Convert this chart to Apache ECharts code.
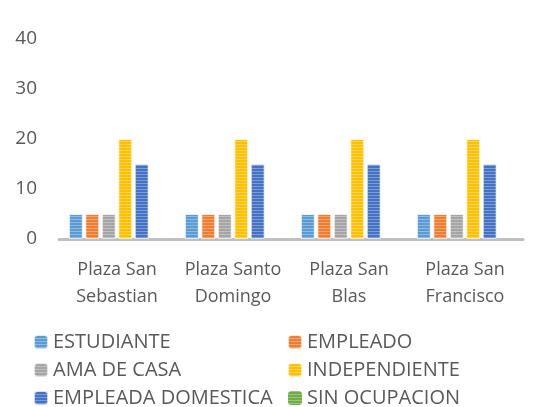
<!DOCTYPE html>
<html>
<head>
<meta charset="utf-8">
<script src="https://cdn.jsdelivr.net/npm/echarts@6/dist/echarts.min.js"></script>
<style>html,body{margin:0;padding:0;background:#fff}#c{width:542px;height:407px}</style>
</head>
<body>
<div id="c"></div>
<script>
const categories = ['Plaza San\nSebastian', 'Plaza Santo\nDomingo', 'Plaza San\nBlas', 'Plaza San\nFrancisco'];
const estudiante = [5, 5, 5, 5];
const empleado = [5, 5, 5, 5];
const amaDeCasa = [5, 5, 5, 5];
const independiente = [20, 20, 20, 20];
const empleadaDomestica = [15, 15, 15, 15];
const sinOcupacion = [0, 0, 0, 0];
const yTicks = [0, 10, 20, 30, 40];

const seriesDefs = [
  ['ESTUDIANTE', estudiante, '#5b9bd5'],
  ['EMPLEADO', empleado, '#ed7d31'],
  ['AMA DE CASA', amaDeCasa, '#a5a5a5'],
  ['INDEPENDIENTE', independiente, '#ffc000'],
  ['EMPLEADA DOMESTICA', empleadaDomestica, '#4472c4'],
  ['SIN OCUPACION', sinOcupacion, '#70ad47']
];
const FONT = 'Open Sans';
const decal = {
  symbol: 'rect', symbolSize: 1,
  color: 'rgba(255,255,255,0.3)',
  dashArrayX: [1, 0], dashArrayY: [1, 2]
};
const legendText = {fontFamily: FONT, fontSize: 20, lineHeight: 20, color: '#595959'};
const chart = echarts.init(document.getElementById('c'), null, {renderer: 'canvas'});
chart.setOption({
  animation: false,
  textStyle: {fontFamily: FONT},
  grid: {left: 59, right: 19, top: 39, bottom: 168, containLabel: false},
  legend: [
    {left: 33, top: 332, height: 90, width: 250, orient: 'vertical', padding: 0, itemGap: 8, itemWidth: 14, itemHeight: 14,
     textStyle: legendText,
     data: ['ESTUDIANTE', 'AMA DE CASA', 'EMPLEADA DOMESTICA']},
    {left: 287, top: 332, height: 90, width: 250, orient: 'vertical', padding: 0, itemGap: 8, itemWidth: 14, itemHeight: 14,
     textStyle: legendText,
     data: ['EMPLEADO', 'INDEPENDIENTE', 'SIN OCUPACION']}
  ],
  xAxis: {
    type: 'category', data: categories,
    axisLine: {lineStyle: {color: '#bfbfbf', width: 3}},
    axisTick: {show: false},
    axisLabel: {fontFamily: FONT, fontSize: 18, color: '#595959', margin: 17, lineHeight: 27, interval: 0}
  },
  yAxis: {
    type: 'value', min: yTicks[0], max: yTicks[yTicks.length - 1], interval: 10,
    splitLine: {show: false}, axisLine: {show: false}, axisTick: {show: false},
    axisLabel: {fontFamily: FONT, fontSize: 19, color: '#595959', margin: 22}
  },
  series: seriesDefs.map(([name, data, color]) => ({
    name, type: 'bar', data,
    barCategoryGap: '17%', barGap: '18%',
    itemStyle: {color, decal, borderColor: 'rgba(255,255,255,0.45)', borderWidth: data.some(v => v > 0) ? 1 : 0}
  }))
});
</script>
</body>
</html>
